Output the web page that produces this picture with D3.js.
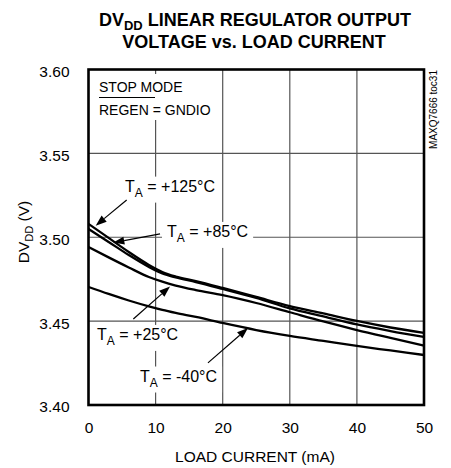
<!DOCTYPE html>
<html>
<head>
<meta charset="utf-8">
<script src="https://cdn.jsdelivr.net/npm/d3@7"></script>
<style>
  body { margin: 0; background: #fff; }
  svg { display: block; font-family: "Liberation Sans", Arial, Helvetica, sans-serif; }
</style>
</head>
<body>
<svg id="chart" width="451" height="468"></svg>
<script>
// ---- data ----
const loadCurrent = [0, 3, 6, 9, 11, 13, 16, 20, 25, 30, 35, 40, 45, 50];           // mA
const v125 = [3.508, 3.4996, 3.4912, 3.4835, 3.4793, 3.4766, 3.4739, 3.4698, 3.4644, 3.459, 3.4546, 3.4501, 3.4462, 3.443];
const v85  = [3.5049, 3.4972, 3.4894, 3.4823, 3.4784, 3.476, 3.4733, 3.4692, 3.4638, 3.4576, 3.4528, 3.448, 3.4441, 3.4406];
const v25  = [3.4942, 3.488, 3.482, 3.4763, 3.4735, 3.4712, 3.4685, 3.4655, 3.4608, 3.4553, 3.4498, 3.4447, 3.44, 3.4354];
const vm40 = [3.4704, 3.4662, 3.4623, 3.4588, 3.4567, 3.4549, 3.4525, 3.4489, 3.4447, 3.4412, 3.4382, 3.4352, 3.4325, 3.4298];
const seriesNames = ["+125°C", "+85°C", "+25°C", "-40°C"];
const xTicks = [0, 10, 20, 30, 40, 50];
const yTicks = [3.40, 3.45, 3.50, 3.55, 3.60];

const svg = d3.select("#chart");
const M = { left: 88.5, right: 424, top: 69.5, bottom: 405 };
const x = d3.scaleLinear().domain([0, 50]).range([M.left, M.right]);
const y = d3.scaleLinear().domain([3.40, 3.60]).range([M.bottom, M.top]);

// title
const title = svg.append("g").attr("font-weight", "bold").attr("font-size", 18).attr("text-anchor", "middle");
const t1 = title.append("text").attr("x", 255).attr("y", 26);
t1.append("tspan").text("DV");
t1.append("tspan").attr("font-size", 13).attr("dy", 4).text("DD");
t1.append("tspan").attr("dy", -4).text(" LINEAR REGULATOR OUTPUT");
title.append("text").attr("x", 254).attr("y", 48).text("VOLTAGE vs. LOAD CURRENT");

// grid
const grid = svg.append("g").attr("stroke", "#555").attr("stroke-width", 1.2);
grid.selectAll(".vg").data(xTicks.slice(1, -1)).join("line")
  .attr("x1", d => x(d)).attr("x2", d => x(d)).attr("y1", M.top).attr("y2", M.bottom);
grid.selectAll(".hg").data(yTicks.slice(1, -1)).join("line")
  .attr("y1", d => y(d)).attr("y2", d => y(d)).attr("x1", M.left).attr("x2", M.right);

// axes tick labels
const xAxis = d3.axisBottom(x).tickValues(xTicks).tickFormat(d3.format("d")).tickSize(0).tickPadding(17);
svg.append("g").attr("transform", `translate(0,${M.bottom})`).call(xAxis)
  .call(g => g.select(".domain").remove())
  .call(g => g.attr("font-family", null).attr("font-size", null).selectAll("text").attr("font-size", 15.5).attr("fill", "#000"));
const yAxis = d3.axisLeft(y).tickValues(yTicks).tickFormat(d3.format(".2f")).tickSize(0).tickPadding(19);
svg.append("g").attr("transform", `translate(${M.left},0)`).call(yAxis)
  .call(g => g.select(".domain").remove())
  .call(g => g.attr("font-family", null).attr("font-size", null).selectAll("text").attr("font-size", 15.5).attr("fill", "#000").attr("dy", "0.45em"));

// axis titles
svg.append("text").attr("x", 255).attr("y", 462).attr("text-anchor", "middle").attr("font-size", 15.5)
  .text("LOAD CURRENT (mA)");
const yl = svg.append("text").attr("transform", "translate(29,232) rotate(-90)").attr("text-anchor", "middle").attr("font-size", 15.5);
yl.append("tspan").text("DV");
yl.append("tspan").attr("font-size", 11).attr("dy", 4).text("DD");
yl.append("tspan").attr("dy", -4).text(" (V)");

// curves
const seriesValues = [v125, v85, v25, vm40];
const line = d3.line().x(d => x(d[0])).y(d => y(d[1])).curve(d3.curveMonotoneX);
svg.append("g").attr("fill", "none").attr("stroke", "#000").attr("stroke-width", 2.3)
  .selectAll("path").data(seriesValues).join("path")
  .attr("d", vals => line(loadCurrent.map((c, i) => [c, vals[i]])));

// notes box
const note = svg.append("g");
note.append("rect").attr("fill", "#fff").attr("x", 95).attr("y", 74).attr("width", 124).attr("height", 46);
note.append("text").attr("x", 99).attr("y", 92).attr("font-size", 14).text("STOP MODE");
note.append("text").attr("x", 99).attr("y", 115).attr("font-size", 14).text("REGEN = GNDIO");
note.append("line").attr("x1", 99).attr("x2", 155).attr("y1", 97.5).attr("y2", 97.5).attr("stroke", "#000").attr("stroke-width", 1);

// annotations (label start, arrow tail, arrow tip in data units)
const ann = [
  { name: seriesNames[0], tx: 5.44, ty: 3.5272, ax: 5.69, ay: 3.5222, bx: 1.07, by: 3.5069 },
  { name: seriesNames[1], tx: 11.7, ty: 3.5002, ax: 10.66, ay: 3.502, bx: 3.7, by: 3.4968 },
  { name: seriesNames[2], tx: 1.27, ty: 3.4388, ax: 6.68, ay: 3.4513, bx: 12.15, by: 3.4706 },
  { name: seriesNames[3], tx: 7.67, ty: 3.414, ax: 17.8, ay: 3.4251, bx: 23.77, by: 3.4459 }
];
const ag = svg.append("g");
ann.forEach(a => {
  const g = ag.append("g");
  const r = g.append("rect").attr("fill", "#fff");
  const t = g.append("text").attr("x", x(a.tx)).attr("y", y(a.ty)).attr("font-size", 16);
  t.append("tspan").text("T");
  t.append("tspan").attr("font-size", 12).attr("dy", 5).text("A");
  t.append("tspan").attr("dy", -5).text(" = " + a.name);
  const bb = t.node().getBBox();
  r.attr("x", bb.x - 5).attr("y", bb.y - 1).attr("width", bb.width + 10).attr("height", bb.height + 4);
  const x0 = x(a.ax), y0 = y(a.ay), x1 = x(a.bx), y1 = y(a.by);
  const ang = Math.atan2(y1 - y0, x1 - x0);
  const L = 11, W = 4;
  const bxp = x1 - L * Math.cos(ang), byp = y1 - L * Math.sin(ang);
  g.append("line").attr("x1", x0).attr("y1", y0).attr("x2", bxp).attr("y2", byp)
    .attr("stroke", "#000").attr("stroke-width", 1.2);
  g.append("path").attr("fill", "#000").attr("d",
    `M${x1},${y1}L${bxp + W * Math.sin(ang)},${byp - W * Math.cos(ang)}L${bxp - W * Math.sin(ang)},${byp + W * Math.cos(ang)}Z`);
});

// frame
svg.append("rect").attr("x", M.left).attr("y", M.top).attr("width", M.right - M.left).attr("height", M.bottom - M.top)
  .attr("fill", "none").attr("stroke", "#000").attr("stroke-width", 2.6);

// figure id
svg.append("text").attr("transform", "translate(437,70) rotate(-90)").attr("text-anchor", "end")
  .attr("font-size", 10).text("MAXQ7666 toc31");
</script>
</body>
</html>
